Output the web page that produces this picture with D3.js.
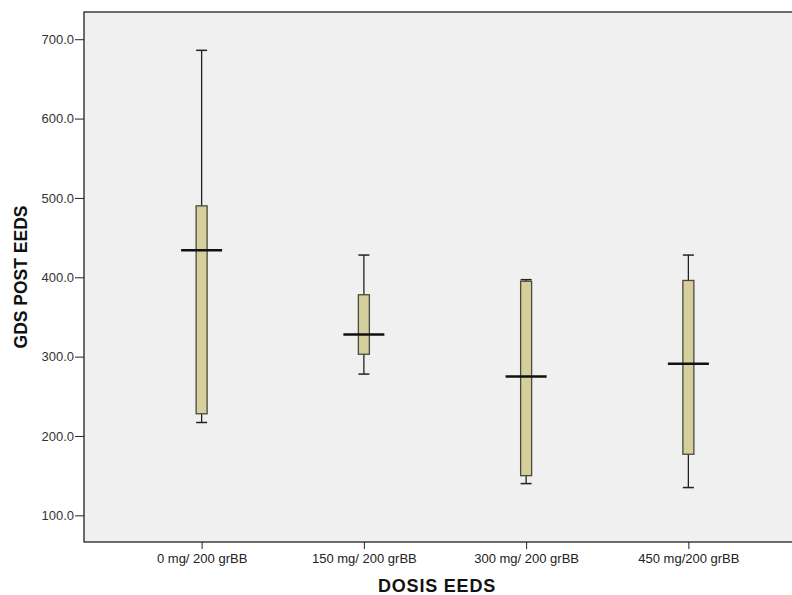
<!DOCTYPE html>
<html>
<head>
<meta charset="utf-8">
<script src="https://cdn.jsdelivr.net/npm/d3@7"></script>
<style>
  html, body { margin: 0; padding: 0; background: #fff; }
  svg { display: block; font-family: Arial, "Liberation Sans", sans-serif; }
</style>
</head>
<body>
<div id="chart"></div>
<script>
// groups and box statistics
const categories = ['0 mg/ 200 grBB', '150 mg/ 200 grBB', '300 mg/ 200 grBB', '450 mg/200 grBB'];
const whiskerHigh = [686, 428, 397, 428];
const boxHigh = [490, 378, 395, 396];
const medians = [434, 328, 275, 291];
const boxLow = [228, 303, 150, 177];
const whiskerLow = [217, 278, 140, 135];
const yTicks = [100, 200, 300, 400, 500, 600, 700];

const data = categories.map((c, i) => ({
  cat: c, hi: whiskerHigh[i], q3: boxHigh[i], med: medians[i], q1: boxLow[i], lo: whiskerLow[i]
}));

const width = 792, height = 595;
// plot frame runs past the right edge of the picture, as in the source
const plot = { left: 84, top: 12, right: 806, bottom: 542 };

const svg = d3.select('#chart').append('svg')
  .attr('width', width).attr('height', height)
  .attr('viewBox', `0 0 ${width} ${height}`);

const x = d3.scalePoint().domain(categories)
  .range([plot.left, plot.right]).padding(0.725);
const y = d3.scaleLinear().domain([66.4, 734.3]).range([plot.bottom, plot.top]);

svg.append('rect')
  .attr('x', plot.left).attr('y', plot.top)
  .attr('width', plot.right - plot.left).attr('height', plot.bottom - plot.top)
  .attr('fill', '#f0f0f0').attr('stroke', '#222').attr('stroke-width', 1.3);

// y axis
const yAxis = svg.append('g').attr('transform', `translate(${plot.left},0)`)
  .call(d3.axisLeft(y).tickValues(yTicks).tickFormat(d3.format('.1f')).tickSize(9).tickPadding(1));
yAxis.select('.domain').remove();
yAxis.selectAll('line').attr('stroke', '#222');
yAxis.selectAll('text').attr('font-size', 13).attr('fill', '#333')
  .attr('font-family', 'Arial, "Liberation Sans", sans-serif');

// x axis
const xAxis = svg.append('g').attr('transform', `translate(0,${plot.bottom})`)
  .call(d3.axisBottom(x).tickSize(7).tickPadding(5));
xAxis.select('.domain').remove();
xAxis.selectAll('line').attr('stroke', '#222');
xAxis.selectAll('text').attr('font-size', 13).attr('fill', '#222')
  .attr('font-family', 'Arial, "Liberation Sans", sans-serif');

const boxW = 11, capW = 11, medW = 41;
const g = svg.append('g').selectAll('g').data(data).join('g')
  .attr('transform', d => `translate(${x(d.cat)},0)`);

g.append('line').attr('class', 'whisker')
  .attr('x1', 0).attr('x2', 0)
  .attr('y1', d => y(d.hi)).attr('y2', d => y(d.lo))
  .attr('stroke', '#222').attr('stroke-width', 1.3);
g.selectAll('.cap').data(d => [d.hi, d.lo]).join('line').attr('class', 'cap')
  .attr('x1', -capW / 2).attr('x2', capW / 2)
  .attr('y1', v => y(v)).attr('y2', v => y(v))
  .attr('stroke', '#222').attr('stroke-width', 1.5);
g.append('rect')
  .attr('x', -boxW / 2).attr('width', boxW)
  .attr('y', d => y(d.q3)).attr('height', d => y(d.q1) - y(d.q3))
  .attr('fill', '#d4cf9c').attr('stroke', '#4a4a3c').attr('stroke-width', 1.3);
g.append('line')
  .attr('x1', -medW / 2).attr('x2', medW / 2)
  .attr('y1', d => y(d.med)).attr('y2', d => y(d.med))
  .attr('stroke', '#111').attr('stroke-width', 2.5);

// axis titles
svg.append('text')
  .attr('x', (plot.left + 790) / 2).attr('y', 592)
  .attr('text-anchor', 'middle').attr('font-size', 18).attr('font-weight', 'bold')
  .attr('letter-spacing', 0.8)
  .attr('fill', '#111').text('DOSIS EEDS');
svg.append('text')
  .attr('transform', `translate(27,${(plot.top + plot.bottom) / 2}) rotate(-90)`)
  .attr('text-anchor', 'middle').attr('font-size', 17.5).attr('font-weight', 'bold')
  .attr('fill', '#111').text('GDS POST EEDS');
</script>
</body>
</html>
